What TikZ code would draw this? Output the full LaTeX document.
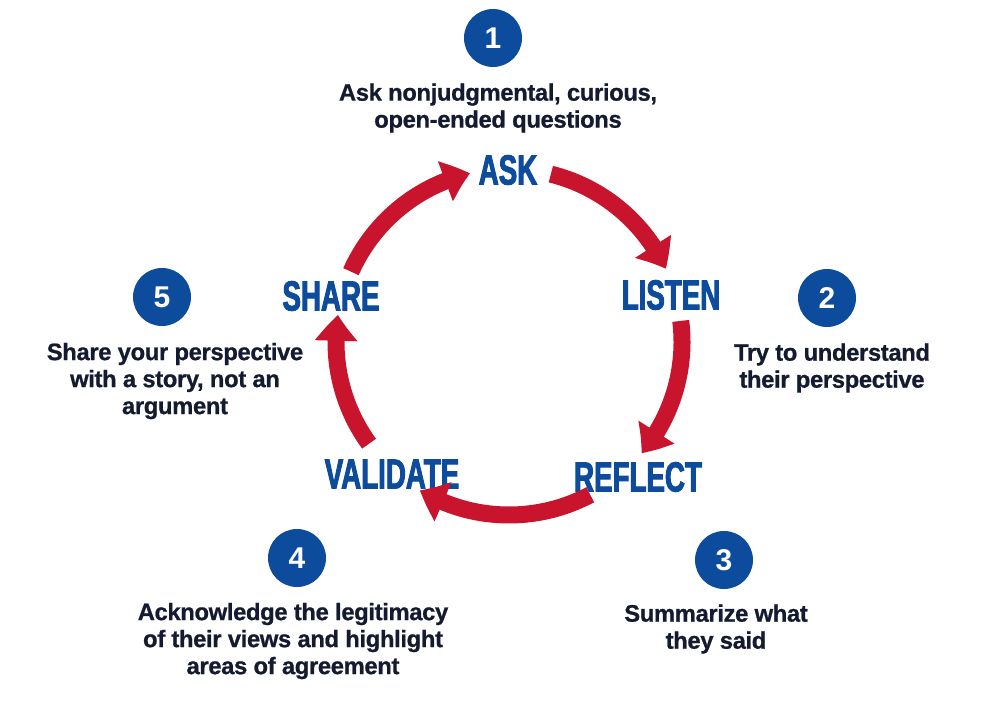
\documentclass[tikz,border=0pt]{standalone}
\usepackage{fontspec}
\setmainfont{Liberation Sans}
\newfontfamily\labelfont{Liberation Sans}[FakeStretch=0.66,FakeBold=2.2]
\newfontfamily\descfont{Liberation Sans}[FakeBold=0.8,LetterSpace=-1.5]
\usetikzlibrary{arrows.meta,bending}
\definecolor{cyred}{HTML}{C8142C}
\definecolor{cyblue}{HTML}{0D4C9C}
\definecolor{cynavy}{HTML}{141A30}
\tikzset{
  cyarrow/.style={draw=cyred, line width=17pt, -{Triangle[length=26pt,width=41pt,bend]}, color=cyred},
  steplabel/.style={text=cyblue, font=\labelfont\bfseries\fontsize{42}{42}\selectfont, inner sep=0pt},
  numdot/.style={circle, fill=cyblue, minimum size=58pt, inner sep=0pt, text=white, font=\bfseries\fontsize{30}{30}\selectfont},
  desc/.style={text=cynavy, align=center, font=\descfont\bfseries\fontsize{23.8}{27}\selectfont, inner sep=0pt}
}
\begin{document}
\begin{tikzpicture}[x=1pt,y=-1pt]
\useasboundingbox[fill=white] (0,0) rectangle (1000,703);
\coordinate (c) at (509,342);
% labels
\node[steplabel] (ask) at (508,170) {ASK};
\node[steplabel] (listen) at (671,295) {LISTEN};
\node[steplabel] (reflect) at (638,477) {REFLECT};
\node[steplabel] (validate) at (392,474) {VALIDATE};
\node[steplabel] (share) at (331,296) {SHARE};
% arrows (clockwise ring)
\draw[cyarrow] ([shift={(-76:173)}]c) arc[start angle=-76, end angle=-25, radius=173];
\draw[cyarrow] ([shift={(-7:173)}]c) arc[start angle=-7, end angle=40, radius=173];
\draw[cyarrow] ([shift={(62:173)}]c) arc[start angle=62, end angle=121, radius=173];
\draw[cyarrow] ([shift={(144:173)}]c) arc[start angle=144, end angle=189, radius=173];
\draw[cyarrow] ([shift={(204:173)}]c) arc[start angle=204, end angle=257, radius=173];
% numbers
\node[numdot] (n1) at (493,38) {1};
\node[numdot] (n2) at (827,298) {2};
\node[numdot] (n3) at (724,560) {3};
\node[numdot] (n4) at (297,558) {4};
\node[numdot] (n5) at (162,297) {5};
% descriptions
\node[desc] (d1) at (498,108) {Ask nonjudgmental, curious,\\open-ended questions};
\node[desc] (d2) at (832,368) {Try to understand\\their perspective};
\node[desc] (d3) at (716,629) {Summarize what\\they said};
\node[desc] (d4) at (293,641) {Acknowledge the legitimacy\\of their views and highlight\\areas of agreement};
\node[desc] (d5) at (175,381) {Share your perspective\\with a story, not an\\argument};
\end{tikzpicture}
\end{document}
